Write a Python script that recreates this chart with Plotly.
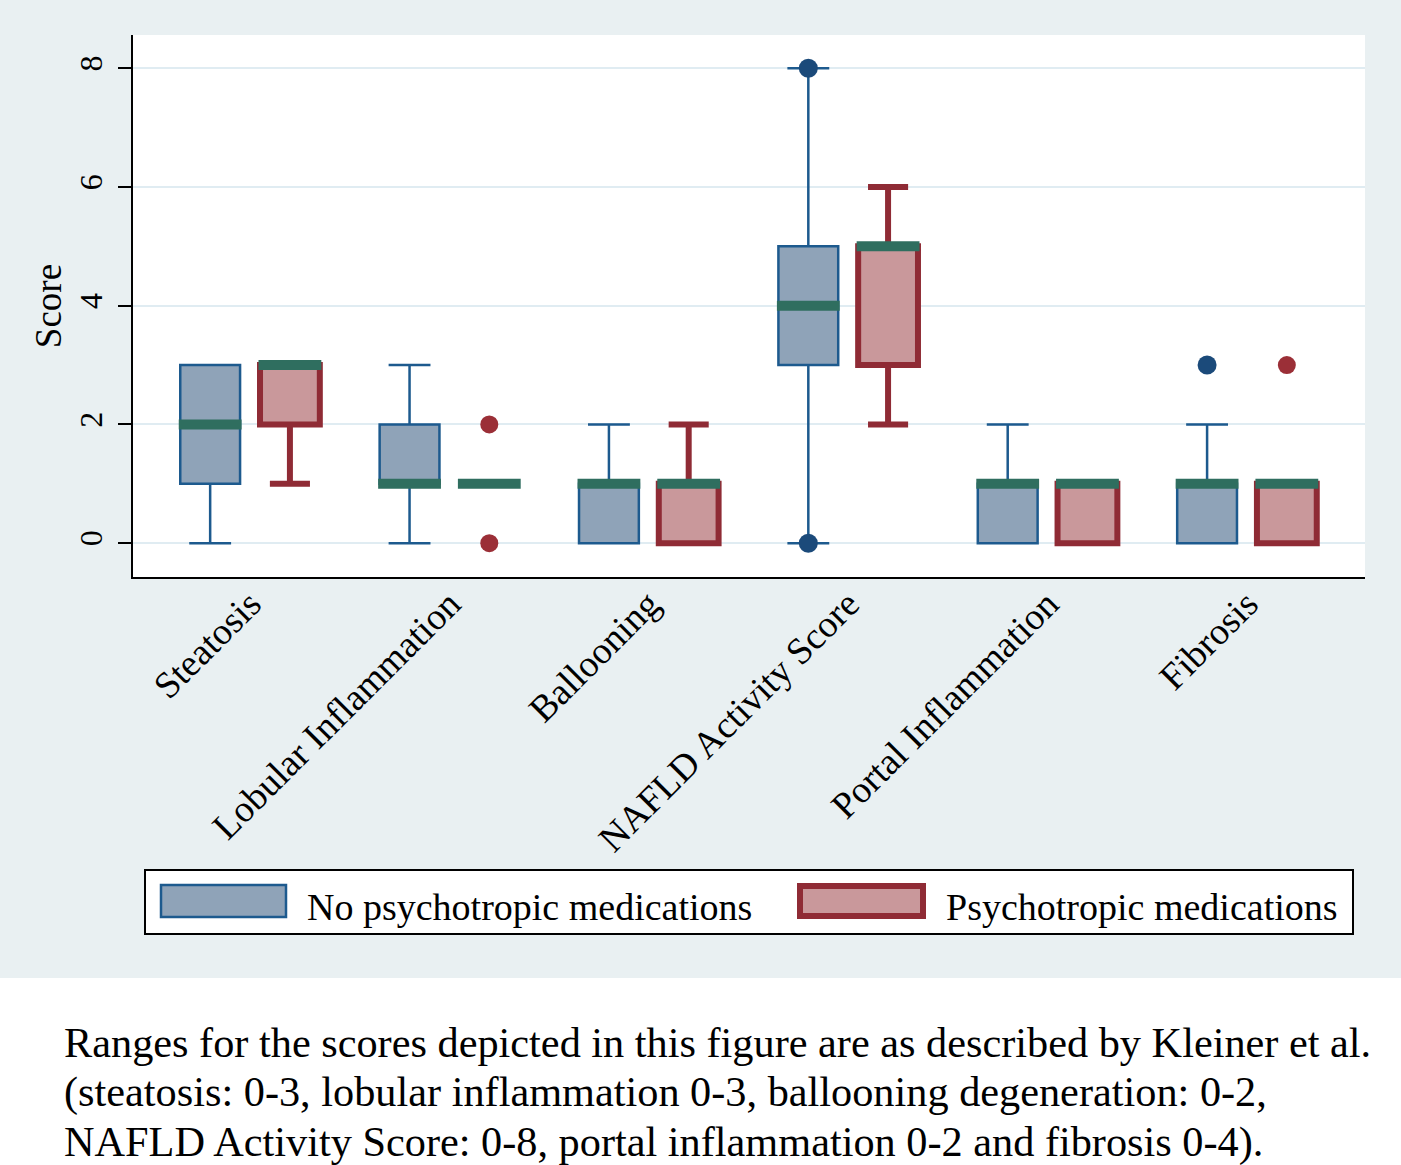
import plotly.graph_objects as go

categories = ["Steatosis", "Lobular Inflammation", "Ballooning",
              "NAFLD Activity Score", "Portal Inflammation", "Fibrosis"]
groups = ["No psychotropic medications", "Psychotropic medications"]

# Box statistics per category (lower adjacent, q1, median, q3, upper adjacent)
no_lower = [0, 0, 0, 0, 0, 0]
no_q1 = [1, 1, 0, 3, 0, 0]
no_median = [2, 1, 1, 4, 1, 1]
no_q3 = [3, 2, 1, 5, 1, 1]
no_upper = [3, 3, 2, 8, 2, 2]
no_outlier_cat = [3, 3, 5]          # category index (0-based)
no_outlier_val = [8, 0, 3]

ps_lower = [1, 1, 0, 2, 0, 0]
ps_q1 = [2, 1, 0, 3, 0, 0]
ps_median = [3, 1, 1, 5, 1, 1]
ps_q3 = [3, 1, 1, 5, 1, 1]
ps_upper = [3, 1, 2, 6, 1, 1]
ps_outlier_cat = [1, 1, 5]
ps_outlier_val = [2, 0, 3]

y_ticks = [0, 2, 4, 6, 8]

caption_lines = [
    "Ranges for the scores depicted in this figure are as described by Kleiner et al.",
    "(steatosis: 0-3, lobular inflammation 0-3, ballooning degeneration: 0-2,",
    "NAFLD Activity Score: 0-8, portal inflammation 0-2 and fibrosis 0-4).",
]

# Styles
BLUE_FILL = "#8fa3b8"
BLUE_LINE = "#1d5a8e"
BLUE_DOT = "#1b4a7a"
RED_FILL = "#c9989b"
RED_LINE = "#8f2b35"
RED_DOT = "#9b2f37"
MED = "#2f6e5f"
BG = "#e9f0f2"
GRID = "#e0ecf2"
SERIF = "Liberation Serif, Times New Roman, serif"

OFF = 0.2
BW = 0.30
MW = 0.315

cat_pos = list(range(1, len(categories) + 1))
x_no = [p - OFF for p in cat_pos]
x_ps = [p + OFF for p in cat_pos]

fig = go.Figure()

fig.add_trace(go.Box(
    x=x_no, q1=no_q1, median=no_median, q3=no_q3,
    lowerfence=no_lower, upperfence=no_upper,
    width=BW, whiskerwidth=0.7, fillcolor=BLUE_FILL,
    line=dict(color=BLUE_LINE, width=2.5), name=groups[0],
    boxpoints=False, showlegend=False, hoverinfo="skip"))

fig.add_trace(go.Box(
    x=x_ps, q1=ps_q1, median=ps_median, q3=ps_q3,
    lowerfence=ps_lower, upperfence=ps_upper,
    width=BW, whiskerwidth=0.67, fillcolor=RED_FILL,
    line=dict(color=RED_LINE, width=6), name=groups[1],
    boxpoints=False, showlegend=False, hoverinfo="skip"))


def median_segments(xs, meds):
    mx, my = [], []
    for x, m in zip(xs, meds):
        mx += [x - MW / 2, x + MW / 2, None]
        my += [m, m, None]
    return mx, my


for xs, meds in ((x_no, no_median), (x_ps, ps_median)):
    mx, my = median_segments(xs, meds)
    fig.add_trace(go.Scatter(x=mx, y=my, mode="lines",
                             line=dict(color=MED, width=10),
                             showlegend=False, hoverinfo="skip"))

fig.add_trace(go.Scatter(
    x=[cat_pos[c] - OFF for c in no_outlier_cat], y=no_outlier_val,
    mode="markers", marker=dict(color=BLUE_DOT, size=19),
    showlegend=False, hoverinfo="skip"))
fig.add_trace(go.Scatter(
    x=[cat_pos[c] + OFF for c in ps_outlier_cat], y=ps_outlier_val,
    mode="markers", marker=dict(color=RED_DOT, size=18),
    showlegend=False, hoverinfo="skip"))

# Paper-coordinate helpers (plot area: x 133..1365, y 35..577)
L, R, T, B = 133, 1365, 35, 577
PW, PH = R - L, B - T


def px(x):
    return (x - L) / PW


def py(y):
    return (B - y) / PH


shapes = [
    # white lower band for caption
    dict(type="rect", xref="paper", yref="paper",
         x0=px(-5), x1=px(1410), y0=py(1170), y1=py(978),
         fillcolor="white", line=dict(width=0), layer="below"),
    # legend frame
    dict(type="rect", xref="paper", yref="paper",
         x0=px(145), x1=px(1353), y0=py(934), y1=py(870),
         fillcolor="white", line=dict(color="black", width=2)),
    # legend keys
    dict(type="rect", xref="paper", yref="paper",
         x0=px(161), x1=px(286), y0=py(917), y1=py(885),
         fillcolor=BLUE_FILL, line=dict(color=BLUE_LINE, width=2.5)),
    dict(type="rect", xref="paper", yref="paper",
         x0=px(800), x1=px(923), y0=py(916), y1=py(886),
         fillcolor=RED_FILL, line=dict(color=RED_LINE, width=6)),
]

annotations = [
    dict(xref="paper", yref="paper", x=px(305), y=py(907), text=groups[0],
         showarrow=False, xanchor="left", yanchor="middle",
         font=dict(family=SERIF, size=38, color="black")),
    dict(xref="paper", yref="paper", x=px(944), y=py(907), text=groups[1],
         showarrow=False, xanchor="left", yanchor="middle",
         font=dict(family=SERIF, size=38, color="black")),
]
for i, line in enumerate(caption_lines):
    annotations.append(dict(
        xref="paper", yref="paper", x=px(62), y=py(1042 + 50 * i), text=line,
        showarrow=False, xanchor="left", yanchor="middle",
        font=dict(family=SERIF, size=42.3, color="black")))

fig.update_layout(
    width=1401, height=1165,
    margin=dict(l=L, r=1401 - R, t=T, b=1165 - B),
    paper_bgcolor=BG, plot_bgcolor="white",
    boxmode="overlay",
    shapes=shapes, annotations=annotations,
    font=dict(family=SERIF, color="black"),
    xaxis=dict(
        range=[cat_pos[0] - 0.587, cat_pos[-1] + 0.592],
        tickvals=cat_pos, ticktext=categories, tickangle=-45,
        showgrid=False, zeroline=False, showline=True,
        linecolor="black", linewidth=2, ticks="",
        ticklabelstandoff=-12,
        tickfont=dict(family=SERIF, size=37.5, color="black")),
    yaxis=dict(
        range=[-0.57, 8.56], tickvals=y_ticks, tickangle=-90,
        showgrid=True, gridcolor=GRID, gridwidth=1.5, zeroline=False,
        showline=True, linecolor="black", linewidth=2,
        ticks="outside", ticklen=13, tickwidth=2, tickcolor="black",
        ticklabelstandoff=3,
        tickfont=dict(family=SERIF, size=32, color="black"),
        title=dict(text="Score", font=dict(family=SERIF, size=37, color="black"),
                   standoff=0)),
)

fig.write_html("out.html",
               config={"displayModeBar": False},
               post_script="document.body.style.margin='0px';document.body.style.padding='0px';")
